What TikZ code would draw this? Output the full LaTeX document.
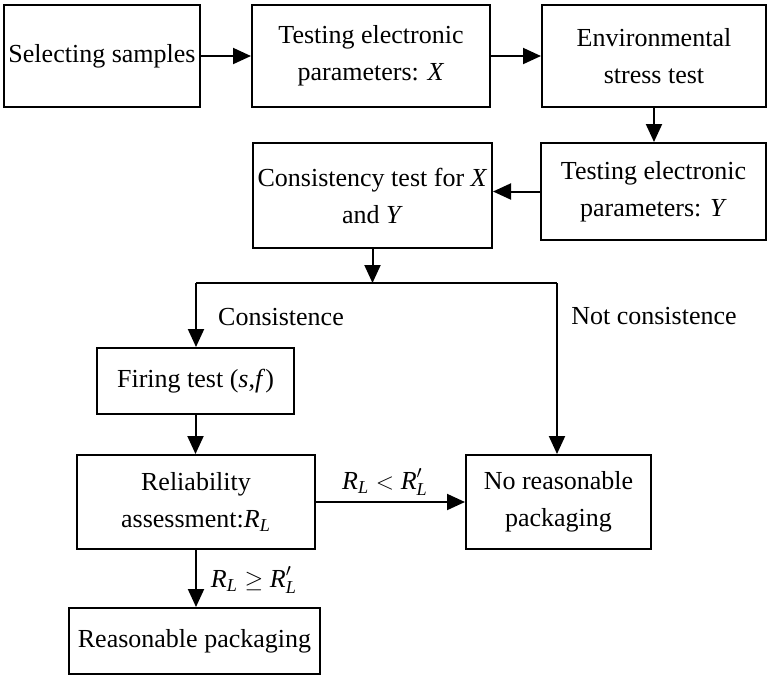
\documentclass[tikz,border=0pt]{standalone}
\usepackage{amsmath}
\usepackage{fontspec}
\setmainfont{Liberation Serif}
\usetikzlibrary{arrows.meta}
\tikzset{
  box/.style={draw=black, line width=1pt, align=center, inner sep=0pt, font=\fontsize{13}{18.5}\selectfont},
  flow/.style={draw=black, line width=1pt, -{Triangle[length=9pt,width=8pt]}},
  link/.style={draw=black, line width=1pt},
  lab/.style={font=\fontsize{13}{18.5}\selectfont, inner sep=0pt},
}
\begin{document}
\begin{tikzpicture}[x=0.5pt, y=-0.5pt]
  \useasboundingbox[fill=white] (0,0) rectangle (768,676);

  \node[box, minimum width=98pt, minimum height=51pt] (sel) at (102,56) {Selecting samples};
  \node[box, minimum width=119pt, minimum height=51pt] (tx) at (371,56) {Testing electronic\\parameters: \textit{X}};
  \node[box, minimum width=112pt, minimum height=51pt] (env) at (654,56) {Environmental\\stress test};
  \node[box, minimum width=112.5pt, minimum height=48.5pt] (ty) at (653.5,191.5) {Testing electronic\\parameters: \textit{Y}};
  \node[box, minimum width=119.5pt, minimum height=52.5pt] (cons) at (372.5,195.5) {Consistency test for \textit{X}\\and \textit{Y}};
  \node[box, minimum width=98.5pt, minimum height=33pt] (fire) at (195.5,381) {Firing test (\textit{s},\textit{f})};
  \node[box, minimum width=119pt, minimum height=47pt] (rel) at (196,502) {Reliability\\assessment:$\textit{R}_{\textit{L}}$};
  \node[box, minimum width=92.5pt, minimum height=47pt] (norp) at (558.5,502) {No reasonable\\packaging};
  \node[box, minimum width=125.5pt, minimum height=33pt] (rp) at (194.5,641) {Reasonable packaging};

  \coordinate (split) at (372.5,283);
  \coordinate (lb) at (196,283);
  \coordinate (rb) at (557,283);

  \draw[flow] (sel) -- (tx);
  \draw[flow] (tx) -- (env);
  \draw[flow] (env.south) -- (env.south |- ty.north);
  \draw[flow] (ty.west) -- (ty.west -| cons.east);
  \draw[flow] (cons) -- (split);
  \draw[link] (lb) -- (rb);
  \draw[flow] (lb) -- (lb |- fire.north);
  \draw[flow] (rb) -- (rb |- norp.north);
  \draw[flow] (fire.south) -- (fire.south |- rel.north);
  \draw[flow] (rel) -- (norp);
  \draw[flow] (rel.south) -- (rel.south |- rp.north);

  \node[lab] (ok) at (281,317) {Consistence};
  \node[lab] (nok) at (654,316) {Not consistence};
  \node[lab] (lt) at (385,482) {$\textit{R}_{\textit{L}} < \textit{R}'_{\textit{L}}$};
  \node[lab] (ge) at (254,580) {$\textit{R}_{\textit{L}} \ge \textit{R}'_{\textit{L}}$};
\end{tikzpicture}
\end{document}
